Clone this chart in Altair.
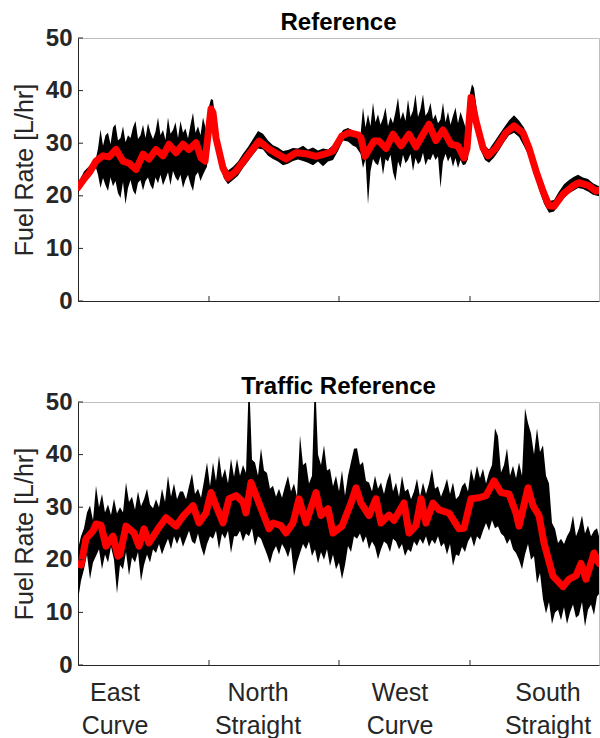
import altair as alt
import pandas as pd

# ---------------- data (distance along the lap, fuel rate in L/hr) ----------------
SECTION_BOUNDS = [131, 261, 392]
Y_TICKS = [0, 10, 20, 30, 40, 50]
SECTION_LABELS = ["East\nCurve", "North\nStraight", "West\nCurve", "South\nStraight"]
SECTION_LABEL_X = [37, 180, 322, 470]

# --- Reference: mean (red) ---
top_red_x = [0, 6, 12, 18, 25, 31, 38, 45, 51, 58, 65, 71, 78, 85, 91, 98, 105, 111, 118, 123,
             127, 130, 133, 135, 138, 145, 150, 158, 168, 181, 191, 199, 208, 218, 228, 238, 248, 255, 264, 271,
             280, 283, 287, 291, 296, 301, 308, 315, 323, 331, 338, 345, 351, 358, 365, 373, 380, 386, 389, 393,
             398, 405, 410, 418, 428, 436, 445, 451, 458, 465, 471, 476, 485, 495, 501, 510, 518, 521]
top_red_y = [21.6, 23.2, 24.6, 26.6, 27.6, 27.4, 28.8, 26.6, 26.2, 25.0, 27.9, 27.0, 28.8, 27.6, 29.8, 28.2, 29.8, 28.8, 30.1, 27.2,
             26.6, 31.5, 36.5, 35.8, 31.0, 25.3, 23.4, 24.7, 27.2, 30.4, 28.9, 28.0, 27.0, 28.2, 28.0, 27.5, 28.0, 28.5, 31.4, 32.0,
             31.6, 31.0, 27.5, 28.8, 30.4, 30.4, 29.0, 31.7, 29.5, 31.7, 29.3, 31.7, 33.6, 30.5, 32.5, 29.8, 29.5, 27.2, 29.0, 38.7,
             34.2, 29.1, 27.6, 29.1, 32.0, 33.3, 32.0, 29.1, 24.7, 20.9, 18.1, 18.0, 20.3, 21.9, 22.5, 22.0, 20.9, 21.0]

# --- Reference: envelope of the individual runs (black) ---
top_band_x = ([0, 6, 12, 18]
              + [20 + 2.5 * i for i in range(44)]
              + [129, 131, 133, 135, 138, 142, 146, 150, 155, 160, 165, 170, 175, 180, 185, 190, 195, 200, 205, 210,
                 215, 220, 225, 230, 235, 240, 245, 250, 255, 260, 265, 270, 275, 278]
              + [282.5 + 2.5 * i for i in range(43)]
              + [390, 392, 394, 396, 399, 403, 407, 411, 416, 421, 426, 431, 436, 441, 446, 451, 456, 461, 466, 471,
                 476, 481, 486, 491, 496, 500, 505, 510, 515, 521])
top_band_lo = ([20.6, 22.3, 23.6, 25.3]
               + [24.0, 21.5, 23.4, 22.0, 20.9, 23.5, 21.8, 22.8, 20.5, 19.6,
                  22.6, 18.4, 21.5, 23.0, 21.0, 20.2, 22.5, 23.0, 21.0, 22.8,
                  23.5, 22.0, 21.2, 23.5, 22.4, 24.0, 22.0, 23.2, 24.5, 22.0,
                  24.7, 23.5, 22.8, 24.0, 21.5, 23.0, 24.0, 22.2, 20.9, 23.8,
                  24.5, 22.8, 24.0, 25.0]
               + [25.5, 30.0, 34.5, 33.8, 29.5, 25.5, 23.3, 22.2, 23.0, 23.8,
                  25.3, 26.5, 27.8, 29.0, 28.8, 27.6, 27.0, 26.5, 25.8, 26.1,
                  26.6, 26.9, 26.6, 26.3, 25.8, 26.5, 25.6, 26.5, 26.8, 28.5,
                  30.5, 30.3, 29.5, 29.3]
               + [28.0, 25.3, 27.0, 18.4, 24.7, 27.0, 26.2, 25.8, 27.5, 24.0,
                  27.0, 26.5, 27.8, 24.5, 22.8, 26.5, 25.3, 27.8, 26.2, 26.8,
                  28.0, 24.7, 27.2, 26.0, 26.5, 28.2, 25.8, 27.0, 26.8, 28.0,
                  26.8, 27.5, 21.5, 26.5, 28.0, 26.5, 27.5, 25.5, 27.2, 25.3,
                  26.8, 25.8, 26.0]
               + [27.0, 33.0, 37.0, 36.0, 32.5, 28.5, 26.8, 26.3, 27.3, 28.6,
                  30.2, 31.5, 32.0, 31.2, 29.4, 27.5, 24.5, 21.2, 18.5, 16.8,
                  17.0, 18.4, 19.6, 20.5, 21.0, 21.5, 21.3, 20.8, 20.2, 19.9])
top_band_hi = ([22.4, 24.6, 25.8, 27.2]
               + [29.0, 32.6, 29.5, 31.5, 32.0, 29.8, 33.0, 33.6, 30.5, 31.0,
                  33.2, 30.2, 31.5, 31.0, 33.0, 34.2, 30.8, 31.5, 33.5, 31.0,
                  33.8, 32.0, 30.8, 32.2, 34.9, 31.5, 32.5, 30.6, 34.9, 31.8,
                  32.5, 34.0, 31.0, 34.2, 32.0, 32.8, 30.9, 33.5, 35.8, 32.0,
                  33.2, 31.5, 34.9, 33.0]
               + [31.0, 37.0, 38.4, 38.2, 33.5, 29.0, 26.2, 24.8, 25.5, 26.5,
                  28.0, 29.3, 30.8, 32.3, 31.8, 30.5, 29.6, 29.2, 28.5, 28.7,
                  29.1, 29.0, 29.5, 28.8, 29.2, 28.6, 29.0, 28.8, 29.6, 31.0,
                  32.5, 32.9, 32.4, 32.2]
               + [31.5, 36.8, 33.0, 35.5, 33.2, 37.7, 34.0, 35.5, 33.5, 34.8,
                  36.8, 33.2, 35.0, 33.8, 36.0, 38.7, 34.5, 36.0, 34.2, 38.3,
                  35.0, 36.2, 39.3, 35.0, 36.5, 39.3, 35.2, 36.0, 37.7, 34.5,
                  35.5, 33.8, 34.5, 37.7, 34.0, 36.0, 33.5, 35.2, 36.8, 33.8,
                  36.0, 34.5, 33.0]
               + [33.0, 39.5, 41.2, 40.5, 36.2, 31.8, 29.5, 28.8, 30.2, 31.6,
                  33.0, 34.3, 35.3, 34.3, 33.0, 30.6, 27.5, 24.0, 21.0, 19.0,
                  19.2, 20.8, 22.2, 23.0, 23.6, 24.0, 23.5, 23.2, 22.4, 21.8])

# --- Traffic Reference: mean (red) ---
bot_red_x = [0, 3, 8, 15, 18, 23, 28, 35, 40, 42, 48, 56, 61, 66, 71, 80, 88, 98, 105, 115,
             121, 128, 133, 138, 145, 151, 158, 165, 168, 173, 181, 191, 195, 203, 208, 215, 221, 228, 238, 243,
             250, 255, 264, 273, 278, 283, 291, 298, 303, 311, 316, 326, 331, 338, 343, 348, 355, 361, 371, 381,
             386, 393, 401, 408, 416, 423, 431, 438, 441, 450, 455, 461, 466, 475, 485, 491, 498, 503, 508, 516, 521]
bot_red_y = [19.2, 19.0, 24.0, 25.5, 26.8, 26.6, 22.6, 24.5, 20.7, 21.0, 26.4, 25.1, 22.6, 25.9, 23.2, 25.9, 28.0, 26.4, 28.3, 30.3,
             27.0, 28.9, 32.8, 30.3, 27.0, 31.6, 32.2, 31.0, 28.9, 34.7, 30.8, 25.9, 27.0, 26.5, 25.1, 27.0, 31.6, 27.0, 32.8, 28.4,
             29.7, 25.1, 26.4, 30.8, 33.7, 30.8, 28.4, 31.6, 27.0, 28.5, 27.5, 30.8, 25.1, 26.5, 31.6, 27.0, 30.8, 29.5, 28.9, 25.9,
             26.0, 31.6, 31.8, 32.2, 35.0, 32.8, 32.5, 28.9, 26.4, 33.7, 30.3, 28.4, 23.2, 16.9, 14.9, 16.3, 17.0, 19.3, 16.3, 21.3, 19.3]

# --- Traffic Reference: envelope of the individual runs (black), sampled every 3 distance units ---
bot_band_x = [3 * i for i in range(174)] + [521]
bot_band_hi = [22.0, 24.5, 26.0, 29.0, 30.3, 27.5, 34.1, 30.0, 32.5, 29.0,
               30.5, 28.5, 31.6, 28.8, 30.0, 29.0, 34.7, 31.0, 32.0, 29.5,
               33.0, 30.2, 31.5, 33.5, 30.5, 29.8, 31.5, 30.0, 33.5, 31.0,
               36.0, 32.0, 34.5, 31.5, 33.0, 33.0, 31.5, 34.0, 36.4, 32.5,
               33.5, 31.8, 35.0, 38.5, 34.0, 38.5, 35.0, 39.8, 35.5, 37.3,
               34.5, 39.2, 35.8, 39.2, 36.0, 38.0, 36.5, 55.0, 39.0, 38.5,
               36.0, 41.2, 37.0, 36.5, 33.5, 34.1, 32.0, 33.5, 31.8, 34.0,
               36.0, 33.0, 34.5, 32.0, 43.7, 38.0, 38.5, 34.5, 36.0, 55.0,
               40.0, 38.0, 41.8, 37.0, 37.3, 34.0, 36.0, 33.0, 37.0, 32.2,
               36.0, 38.6, 41.1, 41.2, 38.0, 38.6, 35.0, 34.7, 33.0, 36.0,
               33.5, 34.7, 32.5, 35.0, 36.6, 33.0, 34.7, 32.0, 36.0, 33.0,
               33.5, 31.5, 33.0, 35.4, 32.0, 34.7, 32.5, 34.5, 37.3, 33.5,
               34.0, 32.0, 33.5, 35.4, 32.5, 34.7, 31.5, 32.2, 34.0, 34.7,
               33.0, 37.3, 35.0, 37.9, 35.5, 37.3, 34.5, 36.6, 38.0, 45.0,
               43.5, 36.6, 38.0, 41.2, 36.0, 37.9, 35.5, 38.5, 36.0, 48.8,
               46.0, 44.0, 40.0, 45.0, 40.5, 41.8, 36.0, 34.5, 27.0, 25.9,
               23.2, 24.0, 23.0, 24.5, 25.5, 28.4, 24.5, 26.0, 28.4, 25.0,
               26.5, 24.5, 25.5, 26.0, 24.5]
bot_band_lo = [12.4, 16.0, 18.2, 21.0, 16.3, 19.5, 20.7, 22.0, 18.2, 21.0,
               19.5, 22.5, 20.0, 13.6, 19.0, 18.2, 21.5, 17.0, 20.5, 19.5,
               21.5, 15.9, 19.0, 21.0, 19.5, 22.0, 21.3, 23.0, 21.0, 22.6,
               24.0, 22.0, 24.5, 23.0, 24.5, 22.5, 24.0, 25.5, 23.5, 23.0,
               25.0, 22.5, 20.7, 23.0, 24.5, 24.0, 25.5, 22.0, 25.0, 24.0,
               25.5, 21.3, 24.5, 24.5, 25.5, 23.5, 25.0, 24.5, 26.0, 22.6,
               24.5, 24.0, 22.5, 21.0, 19.3, 21.5, 22.6, 21.0, 23.0, 22.0,
               20.5, 22.5, 16.9, 19.5, 21.3, 23.0, 22.0, 23.5, 20.7, 22.0,
               19.3, 21.5, 20.0, 22.0, 18.8, 21.0, 18.2, 19.5, 16.3, 19.0,
               22.6, 21.5, 24.5, 24.0, 25.0, 23.2, 24.5, 22.0, 23.5, 22.5,
               20.1, 22.0, 23.5, 23.0, 21.5, 24.0, 23.5, 22.0, 23.0, 20.7,
               22.0, 21.5, 23.5, 22.6, 24.0, 23.0, 24.5, 22.5, 23.8, 23.0,
               24.5, 22.5, 23.2, 21.0, 23.0, 18.8, 21.0, 20.7, 22.5, 21.5,
               23.5, 24.5, 22.5, 24.5, 23.8, 25.5, 27.0, 25.5, 27.5, 26.0,
               26.4, 25.0, 24.5, 23.0, 24.0, 22.0, 21.3, 20.0, 18.2, 21.0,
               23.0, 20.0, 20.7, 15.5, 17.5, 12.5, 9.8, 12.0, 7.8, 10.0,
               10.5, 8.5, 11.0, 7.8, 10.0, 11.5, 9.0, 9.5, 12.0, 7.3,
               10.5, 11.5, 9.5, 13.0, 13.5]

# ---------------- styling ----------------
W, H = 521, 263
DARK = "#262626"
FONT = "Liberation Sans"


def make_panel(title, band_x, band_lo, band_hi, red_x, red_y, with_labels):
    band_df = pd.DataFrame({"x": band_x, "lo": band_lo, "hi": band_hi})
    red_df = pd.DataFrame({"x": red_x, "y": red_y})
    xscale = alt.Scale(domain=[0, 521], nice=False, zero=False)
    yscale = alt.Scale(domain=[0, 50], nice=False, zero=True)
    xaxis = alt.Axis(title=None, labels=False, ticks=False, grid=False, domain=True,
                     domainColor=DARK, domainWidth=1)
    yaxis = alt.Axis(title="Fuel Rate [L/hr]", values=Y_TICKS, ticks=False, grid=False,
                     domain=True, domainColor=DARK, domainWidth=1,
                     labelFont=FONT, labelFontSize=24, labelFontWeight="bold",
                     labelColor=DARK, labelPadding=6,
                     titleFont=FONT, titleFontSize=25, titleFontWeight="normal",
                     titleColor=DARK, titlePadding=8)

    def X(field):
        return alt.X(field, scale=xscale, axis=xaxis)

    def Y(field):
        return alt.Y(field, scale=yscale, axis=yaxis)

    band = alt.Chart(band_df).mark_area(color="black", clip=True).encode(
        x=X("x:Q"), y=Y("lo:Q"), y2="hi:Q")
    red = alt.Chart(red_df).mark_line(color="#ff0000", strokeWidth=7, strokeJoin="round",
                                      strokeCap="round", clip=True).encode(
        x=X("x:Q"), y=Y("y:Q"))
    xt = alt.Chart(pd.DataFrame({"x": SECTION_BOUNDS})).mark_rule(color=DARK, strokeWidth=1).encode(
        x=X("x:Q"), y=alt.value(H - 5), y2=alt.value(H))
    yt = alt.Chart(pd.DataFrame({"v": Y_TICKS})).mark_rule(color=DARK, strokeWidth=1).encode(
        y=Y("v:Q"), x=alt.value(0), x2=alt.value(5))
    layers = [band, red, xt, yt]
    if with_labels:
        lab = alt.Chart(pd.DataFrame({"x": SECTION_LABEL_X, "label": SECTION_LABELS})).mark_text(
            font=FONT, fontSize=25, color=DARK, lineBreak="\n", lineHeight=33,
            baseline="top", align="center").encode(
            x=X("x:Q"), y=alt.value(H + 16), text="label:N")
        layers.append(lab)
    return alt.layer(*layers).properties(
        width=W, height=H,
        title=alt.TitleParams(title, font=FONT, fontSize=24, fontWeight="bold",
                              color="black", anchor="middle", offset=-9))


top = make_panel("Reference", top_band_x, top_band_lo, top_band_hi, top_red_x, top_red_y, False)
bottom = make_panel("Traffic Reference", bot_band_x, bot_band_lo, bot_band_hi, bot_red_x, bot_red_y, True)

chart = alt.vconcat(top, bottom, spacing=60).properties(
    padding={"left": 11, "top": 10, "right": 0, "bottom": 0},
    background="white",
).configure_view(stroke="#bfbfbf", strokeWidth=1)

chart.save("out.html", embed_options={"renderer": "svg", "actions": False})
